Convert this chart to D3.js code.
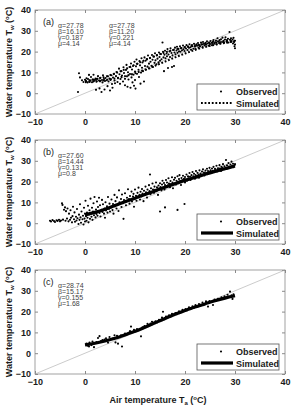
<!DOCTYPE html>
<html>
<head>
<meta charset="utf-8">
<script src="https://cdn.jsdelivr.net/npm/d3@7"></script>
<style>
  body { margin: 0; background: #fff; }
  svg { display: block; font-family: "Liberation Sans", Arial, sans-serif; }
</style>
</head>
<body>
<div id="chart"></div>
<script>
// axis ticks
const xTicks = [-10, 0, 10, 20, 30, 40];
const yTicks = [-10, 0, 10, 20, 30, 40];
const panelLabels = ['(a)', '(b)', '(c)'];

// fitted parameters shown in each panel (one column per parameter set)
const paramsA = [
    ['α=27.78', 'β=16.10', 'γ=0.187', 'μ=4.14'],
    ['α=27.78', 'β=11.20', 'γ=0.221', 'μ=4.14']
];
const paramsB = [['α=27.60', 'β=14.44', 'γ=0.131', 'μ=0.8']];
const paramsC = [['α=28.74', 'β=15.17', 'γ=0.155', 'μ=1.68']];

// simulated curves
const simTa = [0, 2, 4, 6, 8, 10, 12, 14, 16, 18, 20, 22, 24, 26, 28, 30];
const simA1 = [5.3, 5.7, 6.3, 7.1, 8.2, 9.6, 11.3, 13.2, 15.2, 17.2, 19.1, 20.8, 22.2, 23.3, 24.2, 24.9];
const simA2 = [5.9, 6.7, 7.9, 9.5, 11.5, 13.7, 15.9, 17.9, 19.6, 21.0, 22.1, 23.0, 23.7, 24.3, 24.8, 25.2];
const simB = [4.0, 5.2, 6.7, 8.5, 10.3, 12.0, 13.8, 15.5, 17.3, 19.0, 20.6, 22.0, 23.5, 24.9, 26.2, 27.5];
const simC = [4.0, 4.8, 5.9, 7.2, 8.8, 10.5, 12.5, 14.6, 16.7, 18.7, 20.5, 22.2, 23.7, 25.2, 26.5, 27.6];

// observed [Ta, Tw]
const obsA = [
    [-1.2,9.6],[-1,7.6],[-1.4,0.6],[-0.6,6.2],[-0.3,5.4],[0,6.5],[0.2,5.8],[0.3,7.2],[0.5,5.2],[0.6,6.8],[0.8,8.8],[0.9,5.6],
    [1.1,6.1],[1.2,7.8],[1.4,5.3],[1.5,6.6],[1.7,8.9],[1.8,5.9],[2,6.4],[2.1,7.1],[2.2,1.6],[2.3,5.5],[2.5,6.9],[2.6,8.2],
    [2.8,6.1],[2.9,2.3],[3,5.7],[3.1,7.4],[3.3,0.6],[3.4,6.3],[3.5,5.2],[3.6,8.6],[3.8,6.8],[3.9,1.8],[4,5.9],[4.1,7.3],
    [4.3,6.2],[4.5,3.4],[4.6,8.1],[4.7,5.6],[4.9,7],[5,1.3],[5.1,6.4],[5.3,8.6],[5.4,4.4],[5.5,2.6],[5.6,7.5],[5.8,9.3],
    [5.9,6.1],[6,4.8],[6.2,8.2],[6.3,10.2],[6.5,5.4],[6.6,7.3],[6.8,11.8],[6.9,9.1],[7,4.5],[7.1,6.8],[7.3,10.6],[7.4,8.5],
    [7.6,5.6],[7.7,12.5],[7.8,9.7],[8,6.9],[8,3.8],[8.2,11.2],[8.3,13.6],[8.4,8.1],[8.5,3.1],[8.6,10.1],[8.7,6.6],[8.9,12.6],
    [9,9.2],[9.1,2.6],[9.2,14.3],[9.3,7.6],[9.4,11.4],[9.5,5.2],[9.6,13.1],[9.7,8.9],[9.8,3.6],[9.9,15.1],[10,10.4],[10,6.3],
    [10.1,2.2],[10.2,12.9],[10.3,16.2],[10.4,9.3],[10.5,14.1],[10.7,11.3],[10.8,7.8],[10.9,15.4],[11,13.4],[11.1,4.6],[11.2,9.9],
    [11.3,16.8],[11.4,12.2],[11.5,14.8],[11.6,10.6],[11.8,5.6],[11.9,17.2],[12,13.1],[12.1,15.6],[12.2,11.3],[12.4,16.4],
    [12.5,12.8],[12.6,18.1],[12.8,14.2],[12.9,11.9],[13,16.9],[13.1,15.1],[13.3,13.2],[13.4,18.4],[13.5,16.1],[13.6,12.6],
    [13.8,17.6],[13.9,14.6],[14,19.2],[14.1,15.8],[14.3,13.9],[14.4,18.3],[14.5,16.6],[14.7,14.9],[14.8,19.6],[14.9,17.4],
    [15,15.6],[15.2,18.8],[15.3,16.3],[15.5,24.4],[15.6,19.9],[15.7,17.2],[15.8,10.6],[15.9,18.5],[16,20.4],[16.1,16.8],
    [16.3,19.1],[16.4,17.8],[16.5,21.2],[16.6,12.1],[16.7,18.6],[16.9,20.1],[17,17.4],[17.1,21.6],[17.3,19.3],[17.4,12.6],
    [17.5,18.2],[17.6,20.8],[17.8,13.1],[17.9,19.6],[18,21.9],[18.1,18.7],[18.3,20.5],[18.4,22.3],[18.5,19.4],[18.7,21.3],
    [18.8,20.1],[19,22.6],[19.1,19.9],[19.3,21.7],[19.4,20.6],[19.6,22.9],[19.7,21.1],[19.9,20.3],[20,22.2],[20.2,21.5],
    [20.3,23.1],[20.5,20.8],[20.6,22.4],[20.8,21.8],[20.9,23.5],[21.1,22.1],[21.2,20.9],[21.4,23.2],[21.5,22.6],[21.7,21.4],
    [21.8,23.8],[22,22.4],[22.1,21.2],[22.3,23.5],[22.4,22.8],[22.6,24.1],[22.7,21.9],[22.9,23.1],[23,22.5],[23.2,24.3],
    [23.3,23.4],[23.5,22.2],[23.6,24.6],[23.8,23.7],[23.9,22.9],[24.1,24.2],[24.2,23.3],[24.4,25],[24.5,23.9],[24.7,22.8],
    [24.8,24.4],[25,23.6],[25.1,25.1],[25.3,24.2],[25.4,23.1],[25.6,24.8],[25.7,25.6],[25.9,23.8],[26,24.5],[26.2,25.3],
    [26.3,23.5],[26.5,26.4],[26.6,24.9],[26.8,24.1],[26.9,25.5],[27.1,23.9],[27.2,25.9],[27.4,24.6],[27.5,26.7],[27.7,25.2],
    [27.8,24.3],[28,25.8],[28.1,26.9],[28.3,24.8],[28.4,25.5],[28.6,26.2],[28.7,24.4],[28.9,29.4],[29,25.7],[29.2,26.4],
    [29.3,24.9],[29.5,25.8],[29.6,23.9],[29.7,26.6],[29.8,24.6],[29.9,22.6],[30,21.6],[30,23.4],[30,25.2]
];
const obsB = [
    [-7,1.2],[-6.8,0.8],[-6.5,1.5],[-6.2,1],[-6,0.6],[-5.7,1.4],[-5.5,1.1],[-5.2,1.6],[-5,0.9],[-4.8,1.3],[-4.6,9.6],[-4.5,8.8],
    [-4.4,1.7],[-4.2,6.5],[-4,7.6],[-3.9,1.2],[-3.8,5.8],[-3.6,2.2],[-3.5,7.1],[-3.3,0.9],[-3.2,4.6],[-3,1.6],[-2.9,6.2],
    [-2.8,2.6],[-2.6,0.4],[-2.5,3.4],[-2.4,7.9],[-2.2,1.9],[-2.1,5.2],[-2,0.7],[-1.8,3.1],[-1.7,1.3],[-1.6,6.8],[-1.5,2.4],
    [-1.3,-0.4],[-1.2,4.1],[-1.1,1.6],[-1,9.1],[-0.9,2.8],[-0.8,0.2],[-0.7,5.6],[-0.5,1.9],[-0.4,3.6],[-0.3,-0.6],[-0.2,7.4],
    [-0.1,2.2],[0,0.8],[0,4.6],[0.1,10.8],[0.2,3.4],[0.3,1.2],[0.4,5.1],[0.5,2.6],[0.6,8.4],[0.7,0.4],[0.8,4.2],[0.9,6.2],
    [1,2.1],[1.1,11.8],[1.2,4.8],[1.3,3.1],[1.4,7.4],[1.5,1.6],[1.6,5.6],[1.7,9.6],[1.8,3.8],[1.9,12.6],[2,5.2],[2.1,2.8],
    [2.2,6.6],[2.3,4.4],[2.4,10.4],[2.5,3.6],[2.6,7.8],[2.7,5.9],[2.8,12.2],[2.9,4.9],[3,8.6],[3.1,3.2],[3.3,6.4],[3.4,11.2],
    [3.5,5.4],[3.6,9.1],[3.8,4.6],[3.9,7.1],[4,2.6],[4.1,10.1],[4.2,6.1],[4.4,8.1],[4.5,5.1],[4.6,12.6],[4.8,6.9],[4.9,9.4],
    [5,5.6],[5.2,7.6],[5.3,11.4],[5.5,6.3],[5.6,9.2],[5.7,4.6],[5.9,13.6],[6,8.1],[6.1,10.6],[6.3,7.1],[6.4,12.4],[6.5,8.8],
    [6.7,5.9],[6.8,15.8],[6.9,10.1],[7,9.2],[7.2,11.6],[7.3,7.8],[7.4,13.8],[7.6,9.6],[7.7,2.1],[7.8,11.1],[8,14.4],[8.1,10.2],
    [8.2,8.6],[8.4,12.2],[8.5,10.8],[8.6,16.3],[8.8,11.6],[8.9,9.4],[9,13.1],[9.2,11.2],[9.3,15.2],[9.4,10.4],[9.6,12.8],
    [9.7,14.1],[9.8,7.9],[10,11.9],[10,16.2],[10.2,13.2],[10.3,10.8],[10.5,14.6],[10.6,12.4],[10.7,17.1],[10.9,13.6],[11,11.4],
    [11.1,15.1],[11.3,12.9],[11.4,16.4],[11.5,14.2],[11.7,10.6],[11.8,15.6],[12,13.8],[12.1,17.6],[12.2,14.9],[12.4,12.3],
    [12.5,16.2],[12.6,14.4],[12.8,18.3],[12.9,15.4],[13,23.4],[13.1,13.9],[13.2,16.8],[13.4,15.1],[13.5,19.1],[13.6,16.2],
    [13.8,14.6],[13.9,17.6],[14,16.1],[14.2,19.6],[14.3,15.4],[14.4,17.2],[14.6,13.6],[14.7,18.1],[14.8,16.6],[15,5.6],
    [15,19.2],[15.1,17.4],[15.3,15.8],[15.4,18.6],[15.5,20.4],[15.6,17.1],[15.8,19.3],[15.9,16.2],[16,7.6],[16,18.4],
    [16.2,20.8],[16.3,17.9],[16.4,19.6],[16.6,18.2],[16.7,21.6],[16.8,19.1],[17,17.3],[17.1,20.3],[17.2,18.8],[17.4,22.1],
    [17.5,19.6],[17.6,16.8],[17.8,20.9],[17.9,19.2],[18,21.8],[18.2,18.6],[18.3,20.4],[18.5,6.4],[18.5,22.6],[18.6,19.8],
    [18.8,21.2],[18.9,23.1],[19,20.1],[19.2,18.4],[19.3,21.7],[19.5,20.6],[19.6,22.8],[19.8,21.3],[19.9,9.2],[20,19.6],
    [20,22.2],[20.2,21.1],[20.3,23.4],[20.4,20.4],[20.6,22.5],[20.7,21.6],[20.9,24.1],[21,22.3],[21.1,20.8],[21.3,23.1],
    [21.4,21.9],[21.5,24.6],[21.7,22.6],[21.8,23.8],[22,21.4],[22.1,23.2],[22.2,25.1],[22.4,22.7],[22.5,24.2],[22.7,23.4],
    [22.8,21.9],[22.9,25.4],[23.1,23.9],[23.2,22.8],[23.4,24.8],[23.5,23.3],[23.6,25.9],[23.8,24.4],[23.9,22.9],[24.1,25.3],
    [24.2,24.1],[24.4,26.2],[24.5,23.6],[24.6,25.1],[24.8,24.6],[24.9,26.6],[25.1,25.4],[25.2,24.2],[25.4,26.3],[25.5,25.1],
    [25.7,27.1],[25.8,24.8],[26,26.1],[26.1,25.4],[26.3,27.6],[26.4,24.9],[26.6,26.4],[26.7,25.6],[26.9,27.9],[27,26.3],
    [27.2,25.1],[27.3,27.1],[27.5,26.5],[27.6,28.4],[27.8,25.9],[27.9,27.4],[28.1,26.6],[28.2,30.4],[28.4,27.8],[28.5,26.3],
    [28.7,28.9],[28.8,27.2],[29,26.8],[29.1,28.2],[29.3,29.6],[29.4,27.5],[29.6,28.6],[29.7,26.9],[29.9,27.9],[30,28.4]
];
const obsC = [
    [0.3,4.6],[0.5,3.6],[0.6,4.2],[0.8,3.2],[0.9,5.1],[1.1,4.4],[1.3,3.9],[1.5,5.6],[1.8,2.9],[2,4.9],[2.3,5.4],[2.6,7.3],
    [2.9,8.2],[3.2,5.8],[3.5,6.3],[3.9,6.6],[4.2,7.2],[4.6,5.1],[4.9,7.8],[5.2,6.8],[5.6,7.1],[5.9,8.6],[6.1,5.2],[6.4,8.4],
    [6.6,4.6],[6.9,7.8],[7.2,8.6],[7.4,3.2],[7.7,8.9],[8,9.4],[8.3,8.7],[8.7,9.8],[9,10.6],[9.2,12.8],[9.5,10.1],[9.8,11.2],
    [10.1,10.4],[10.4,11.6],[10.8,11.1],[11.2,8.1],[11.5,12.4],[11.9,13.1],[12.2,12.6],[12.5,14.1],[12.8,13.4],[13.1,14.2],
    [13.4,15.1],[13.8,14.4],[14.1,15.3],[14.4,14.8],[14.8,16.1],[15.1,15.6],[15.4,17.1],[15.6,19.9],[15.9,16.4],[16.2,17.6],
    [16.5,16.9],[16.8,18.2],[17.1,17.6],[17.4,18.9],[17.8,18.4],[18.1,19.3],[18.4,18.8],[18.8,20.1],[19.1,19.6],[19.5,20.9],
    [19.8,20.3],[20.1,21.2],[20.4,20.6],[20.8,22.1],[21.1,21.4],[21.5,22.6],[21.8,21.9],[22.1,23.1],[22.5,22.4],[22.8,23.6],
    [23.2,23.1],[23.5,24.4],[23.9,23.6],[24.2,24.9],[24.6,22.4],[24.9,25.1],[25.2,24.6],[25.6,23.2],[25.9,25.8],[26.2,25.1],
    [26.6,26.2],[26.9,25.6],[27.3,26.9],[27.6,26.3],[27.9,27.4],[28.2,26.8],[28.5,28.1],[28.8,27.2],[29,29.6],[29.3,27.8],
    [29.5,26.1],[29.7,28.3]
];

const width = 292, height = 409;
const left = 35, right = 285, plotH = 104;
const panelTops = [10, 140, 270];
const ink = '#1a1a1a';

const svg = d3.select('#chart').append('svg')
    .attr('width', width)
    .attr('height', height);

const x = d3.scaleLinear().domain([-10, 40]).range([left, right]);

const panels = [
    { obs: obsA, sims: [simA1, simA2], params: paramsA, dotted: true },
    { obs: obsB, sims: [simB], params: paramsB, dotted: false },
    { obs: obsC, sims: [simC], params: paramsC, dotted: false }
];

panels.forEach((p, i) => {
    const top = panelTops[i];
    const y = d3.scaleLinear().domain([-10, 40]).range([top + plotH, top]);
    const g = svg.append('g');

    // frame
    g.append('rect')
        .attr('x', left).attr('y', top)
        .attr('width', right - left).attr('height', plotH)
        .attr('fill', 'none').attr('stroke', '#8a8a8a').attr('stroke-width', 0.8);

    // axes (ticks pointing inward, MATLAB style)
    const xa = g.append('g').attr('transform', `translate(0,${top + plotH})`)
        .call(d3.axisBottom(x).tickValues(xTicks).tickSize(-3).tickPadding(5));
    const xt = g.append('g').attr('transform', `translate(0,${top})`)
        .call(d3.axisTop(x).tickValues(xTicks).tickSize(-3).tickFormat(''));
    const ya = g.append('g').attr('transform', `translate(${left},0)`)
        .call(d3.axisLeft(y).tickValues(yTicks).tickSize(-3).tickPadding(4));
    const yr = g.append('g').attr('transform', `translate(${right},0)`)
        .call(d3.axisRight(y).tickValues(yTicks).tickSize(-3).tickFormat(''));
    [xa, xt, ya, yr].forEach(a => {
        a.select('.domain').remove();
        a.selectAll('line').attr('stroke', '#8a8a8a');
        a.selectAll('text')
            .attr('fill', ink)
            .style('font-size', '9px')
            .style('font-weight', 'bold');
    });

    // 1:1 line
    g.append('line')
        .attr('x1', x(-10)).attr('y1', y(-10))
        .attr('x2', x(40)).attr('y2', y(40))
        .attr('stroke', '#a8a8a8').attr('stroke-width', 0.6);

    // observed
    g.selectAll('circle.obs')
        .data(p.obs)
        .enter()
        .append('circle')
        .attr('class', 'obs')
        .attr('r', 1.05)
        .attr('cx', d => x(d[0]))
        .attr('cy', d => y(d[1]))
        .attr('fill', '#000');

    // simulated
    const line = d3.line()
        .curve(d3.curveCatmullRom.alpha(0.5))
        .x((d, j) => x(simTa[j]))
        .y(d => y(d));
    p.sims.forEach(s => {
        g.append('path')
            .attr('d', line(s))
            .attr('fill', 'none')
            .attr('stroke', '#000')
            .attr('stroke-width', p.dotted ? 2 : 3.2)
            .attr('stroke-dasharray', p.dotted ? '1.8,1.8' : null);
    });

    // panel label
    g.append('text')
        .attr('x', 43).attr('y', top + 15)
        .attr('fill', ink)
        .style('font-size', '9px')
        .text(panelLabels[i]);

    // parameter text
    p.params.forEach((col, c) => {
        col.forEach((t, r) => {
            g.append('text')
                .attr('x', 58 + c * 51)
                .attr('y', top + 17.5 + r * 6)
                .attr('fill', '#444')
                .style('font-size', '7px')
                .text(t);
        });
    });

    // legend
    const lg = g.append('g').attr('transform', `translate(197,${top + 74})`);
    lg.append('rect')
        .attr('width', 82).attr('height', 26)
        .attr('fill', '#fff').attr('stroke', '#555').attr('stroke-width', 0.8);
    lg.append('circle').attr('cx', 24).attr('cy', 7.5).attr('r', 1.05).attr('fill', '#000');
    lg.append('line')
        .attr('x1', 4).attr('x2', 36).attr('y1', 19).attr('y2', 19)
        .attr('stroke', '#000')
        .attr('stroke-width', p.dotted ? 2 : 3.2)
        .attr('stroke-dasharray', p.dotted ? '1.8,1.8' : null);
    lg.selectAll('text.leg')
        .data(['Observed', 'Simulated'])
        .enter()
        .append('text')
        .attr('class', 'leg')
        .attr('x', 39)
        .attr('y', (d, j) => 10.5 + j * 12)
        .attr('fill', ink)
        .style('font-size', '9px')
        .style('font-weight', 'bold')
        .text(d => d);

    // y title
    const yt = g.append('text')
        .attr('transform', `translate(12,${top + plotH / 2}) rotate(-90)`)
        .attr('text-anchor', 'middle')
        .attr('fill', ink)
        .style('font-size', '9px')
        .style('font-weight', 'bold');
    yt.append('tspan').text('Water temperature T');
    yt.append('tspan').attr('dy', 2).style('font-size', '6px').text('w');
    yt.append('tspan').attr('dy', -2).text(' (');
    yt.append('tspan').attr('dy', -3).style('font-size', '6px').text('o');
    yt.append('tspan').attr('dy', 3).text('C)');
});

// x title
const xt = svg.append('text')
    .attr('x', (left + right) / 2 - 2)
    .attr('y', 403)
    .attr('text-anchor', 'middle')
    .attr('fill', ink)
    .style('font-size', '9px')
    .style('font-weight', 'bold');
xt.append('tspan').text('Air temperature T');
xt.append('tspan').attr('dy', 2).style('font-size', '6px').text('a');
xt.append('tspan').attr('dy', -2).text(' (');
xt.append('tspan').attr('dy', -3).style('font-size', '6px').text('o');
xt.append('tspan').attr('dy', 3).text('C)');
</script>
</body>
</html>
